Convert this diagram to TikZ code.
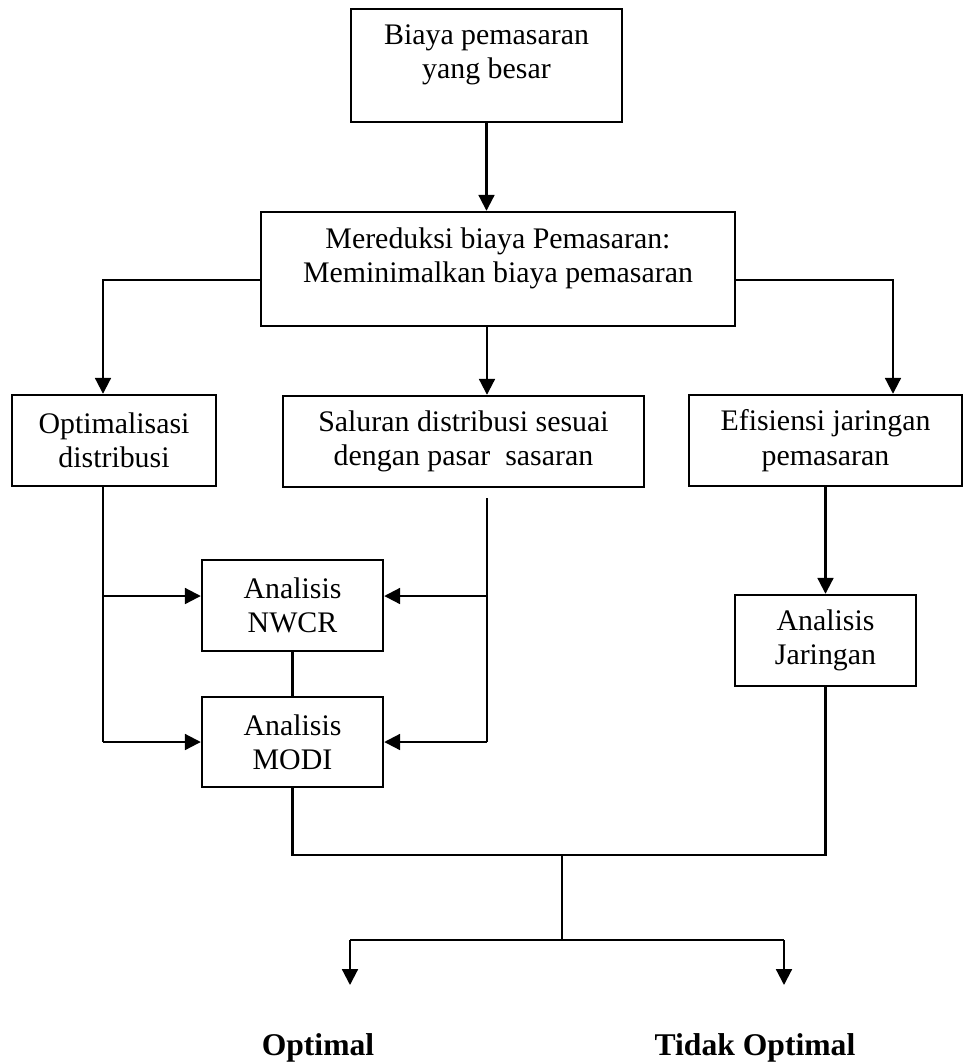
\documentclass[tikz,border=0pt]{standalone}
\usepackage{fontspec}
\setmainfont{Liberation Serif}
\usetikzlibrary{arrows.meta}

\begin{document}
\begin{tikzpicture}[x=0.02cm, y=-0.02cm,
  box/.style={draw, line width=1.4pt, align=center, inner sep=0pt, font=\fontsize{17}{19.6}\selectfont},
  hasil/.style={inner sep=0pt, font=\fontsize{18}{20}\selectfont\bfseries},
  conn/.style={line width=1.2pt},
  arr/.style={conn, -{Triangle[length=9pt,width=9pt]}}]
% Set the page size
\useasboundingbox (0,0) rectangle (964,1063);

% Draw the boxes and insert the texts
\node[box, minimum width=5.42cm, minimum height=2.26cm, text depth=0.56cm] (biaya) at (486.5,65.5) {Biaya pemasaran\\yang besar};
\node[box, minimum width=9.48cm, minimum height=2.28cm, text depth=0.56cm] (reduksi) at (498,269) {Mereduksi biaya Pemasaran:\\Meminimalkan biaya pemasaran};
\node[box, minimum width=4.08cm, minimum height=1.82cm] (optim) at (114,440.5) {Optimalisasi\\distribusi};
\node[box, minimum width=7.22cm, minimum height=1.82cm] (saluran) at (463.5,441.5) {Saluran distribusi sesuai\\dengan pasar\ \ sasaran};
\node[box, minimum width=5.46cm, minimum height=1.82cm] (efisien) at (825.5,440.5) {Efisiensi jaringan\\pemasaran};
\node[box, minimum width=3.62cm, minimum height=1.82cm] (nwcr) at (292.5,605.5) {Analisis\\NWCR};
\node[box, minimum width=3.62cm, minimum height=1.80cm] (modi) at (292.5,742) {Analisis\\MODI};
\node[box, minimum width=3.62cm, minimum height=1.82cm] (jaringan) at (825.5,640.5) {Analisis\\Jaringan};

% Points where the lines branch
\coordinate (kiri) at (103,280);
\coordinate (kanan) at (893,280);
\coordinate (tengah) at (487,498);
\coordinate (cabang) at (0,596);
\coordinate (gabung) at (0,855);
\coordinate (pusat) at (562,855);
\coordinate (bagi) at (562,940);
\coordinate (ujungA) at (350,985);
\coordinate (ujungB) at (784,985);

% Top part
\draw[arr] (biaya.south) -- (biaya.south |- reduksi.north);
\draw[arr] (reduksi.west |- kiri) -- (kiri) -- (kiri |- optim.north);
\draw[arr] (reduksi.east |- kanan) -- (kanan) -- (kanan |- efisien.north);
\draw[arr] (reduksi.south -| tengah) -- (saluran.north -| tengah);

% Left and right trunks into the analyses
\draw[conn] (optim.south -| kiri) -- (modi.west -| kiri);
\draw[arr] (kiri |- cabang) -- (nwcr.west |- cabang);
\draw[arr] (modi.west -| kiri) -- (modi.west);
\draw[conn] (tengah) -- (tengah |- modi.east);
\draw[arr] (tengah |- cabang) -- (nwcr.east |- cabang);
\draw[arr] (tengah |- modi.east) -- (modi.east);
\draw[conn] (nwcr.south) -- (modi.north);
\draw[arr] (efisien.south) -- (jaringan.north);

% Join and split to the results
\draw[conn] (modi.south) -- (modi.south |- gabung) -- (jaringan.south |- gabung) -- (jaringan.south);
\draw[conn] (pusat) -- (bagi);
\draw[conn] (ujungA |- bagi) -- (ujungB |- bagi);
\draw[arr] (ujungA |- bagi) -- (ujungA);
\draw[arr] (ujungB |- bagi) -- (ujungB);
\node[hasil, anchor=base] (optimal) at (318,1055) {Optimal};
\node[hasil, anchor=base] (tidak) at (755,1055) {Tidak Optimal};
\end{tikzpicture}
\end{document}
